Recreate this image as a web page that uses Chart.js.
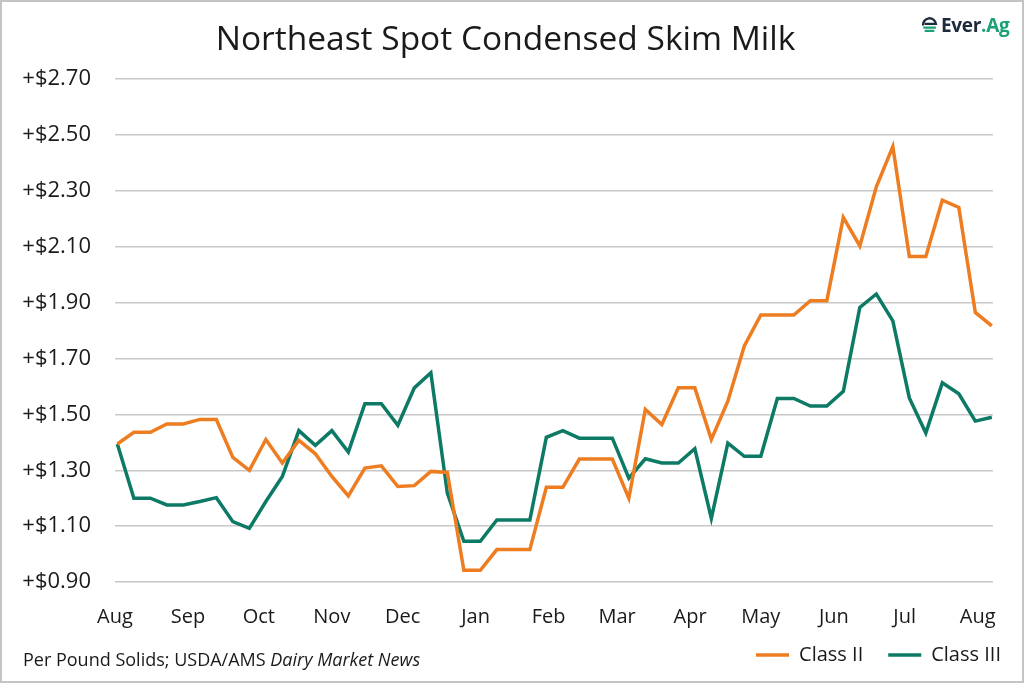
<!DOCTYPE html>
<html>
<head>
<meta charset="utf-8">
<script src="https://cdn.jsdelivr.net/npm/chart.js@4.4.1/dist/chart.umd.min.js"></script>
<style>
  html, body { margin: 0; padding: 0; background: #fff; }
  #wrap { position: relative; width: 1024px; height: 683px; font-family: 'Open Sans', sans-serif; }
  #frame { position: absolute; left: 0; top: 0; right: 0; bottom: 0; border: 2px solid #c4c4c4; pointer-events: none; }
  #note { position: absolute; left: 23px; top: 647px; font-size: 18px; color: #1a1a1a; }
  #logo { position: absolute; left: 921px; top: 12px; font-size: 19px; font-weight: bold; color: #1d2b3c; display: flex; align-items: center; letter-spacing: -0.3px; }
  #logo span { color: #1aa177; }
  #logo svg { margin-right: 3px; }
</style>
</head>
<body>
<div id="wrap">
  <canvas id="myChart" width="1024" height="683"></canvas>
  <div id="note">Per Pound Solids; USDA/AMS <i>Dairy Market News</i></div>
  <div id="logo">
    <svg width="17" height="17" viewBox="0 0 16 16">
      <path d="M2 8 A6 6 0 0 1 14 6.5 L3.5 6.5" fill="none" stroke="#1d2b3c" stroke-width="2.2"/>
      <path d="M2.2 10 L14 10 M3.5 13 L12.5 13" stroke="#1aa177" stroke-width="2.2"/>
    </svg>Ever<span>.Ag</span>
  </div>
  <div id="frame"></div>
</div>
<script>
// weekly prices, first week starts early August 2023
const startDate = new Date(2023, 7, 2)
const class2 = [1.394, 1.436, 1.436, 1.466, 1.466, 1.482, 1.482, 1.346, 1.30, 1.41,
  1.326, 1.407, 1.359, 1.278, 1.208, 1.308, 1.316, 1.242, 1.245, 1.296,
  1.292, 0.942, 0.942, 1.016, 1.016, 1.016, 1.239, 1.239, 1.34, 1.34,
  1.34, 1.20, 1.518, 1.464, 1.595, 1.595, 1.41, 1.547, 1.745, 1.856,
  1.856, 1.856, 1.907, 1.907, 2.205, 2.103, 2.315, 2.459, 2.065, 2.065,
  2.267, 2.241, 1.865, 1.817]
const class3 = [1.394, 1.20, 1.20, 1.176, 1.176, 1.188, 1.202, 1.116, 1.092, 1.188,
  1.278, 1.442, 1.389, 1.442, 1.365, 1.538, 1.538, 1.461, 1.595, 1.649,
  1.218, 1.046, 1.046, 1.122, 1.122, 1.122, 1.418, 1.442, 1.415, 1.415,
  1.415, 1.272, 1.341, 1.326, 1.326, 1.377, 1.128, 1.397, 1.35, 1.35,
  1.557, 1.557, 1.53, 1.53, 1.583, 1.883, 1.931, 1.835, 1.559, 1.433,
  1.613, 1.574, 1.476, 1.49]
const monthLabels = ['Aug', 'Sep', 'Oct', 'Nov', 'Dec', 'Jan', 'Feb', 'Mar', 'Apr', 'May', 'Jun', 'Jul', 'Aug']

const orange = '#EE7D22'
const green = '#0C7A64'
const font = "'Open Sans', sans-serif"

const DAY = 86400000
const monthTicks = monthLabels.map((m, k) => Math.round((new Date(2023, 7 + k, 1) - startDate) / DAY))
const toPoints = arr => arr.map((v, i) => ({ x: i * 7, y: v }))

// nudge the legend so it sits where the reference has it (and stays unclipped)
const moveLegend = {
  id: 'moveLegend',
  afterLayout(c) {
    const lg = c.legend
    lg.left += 33; lg.right += 33
    lg.top -= 32; lg.bottom = c.height
  }
}

const ctx = document.getElementById('myChart')
const myChart = new Chart(ctx, {
  type: 'line',
  data: {
    datasets: [
      { label: 'Class II', data: toPoints(class2), borderColor: orange, backgroundColor: orange, borderWidth: 3.5, pointRadius: 0, tension: 0 },
      { label: 'Class III', data: toPoints(class3), borderColor: green, backgroundColor: green, borderWidth: 3.5, pointRadius: 0, tension: 0 }
    ]
  },
  plugins: [moveLegend],
  options: {
    responsive: false,
    animation: false,
    layout: { padding: { left: 18, right: 31, top: 16, bottom: 0 } },
    plugins: {
      title: {
        display: true,
        text: 'Northeast Spot Condensed Skim Milk',
        color: '#1a1a1a',
        font: { family: font, size: 33.5, weight: 'normal' },
        padding: { top: 4, bottom: 19 }
      },
      legend: {
        position: 'bottom',
        align: 'end',
        maxHeight: 31,
        labels: {
          usePointStyle: true,
          pointStyle: 'line',
          pointStyleWidth: 33,
          color: '#1a1a1a',
          font: { family: font, size: 20 },
          padding: 25
        }
      },
      tooltip: { enabled: false }
    },
    scales: {
      x: {
        type: 'linear',
        min: -1,
        max: 371.5,
        grid: { display: false, drawTicks: false },
        border: { display: false },
        afterBuildTicks: s => { s.ticks = monthTicks.map(v => ({ value: v })) },
        ticks: {
          autoSkip: false,
          maxRotation: 0,
          padding: 23,
          color: '#1a1a1a',
          font: { family: font, size: 20 },
          callback: (v, i) => monthLabels[i]
        }
      },
      y: {
        min: 0.9,
        max: 2.7,
        afterFit: s => { s.width = 97 },
        grid: { color: '#c8c8c8', lineWidth: 1.5, drawTicks: false },
        border: { display: false },
        ticks: {
          stepSize: 0.2,
          padding: 24,
          color: '#1a1a1a',
          font: { family: font, size: 22 },
          callback: v => '+$' + v.toFixed(2)
        }
      }
    }
  }
})
</script>
</body>
</html>
